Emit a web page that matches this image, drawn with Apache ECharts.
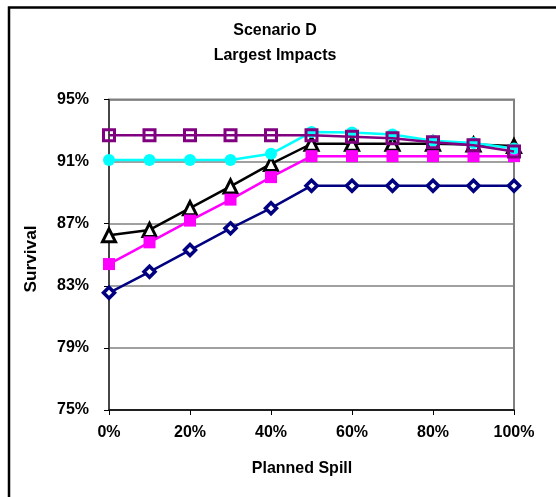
<!DOCTYPE html>
<html><head><meta charset="utf-8">
<script src="https://cdn.jsdelivr.net/npm/echarts@6/dist/echarts.min.js"></script>
<style>html,body{margin:0;padding:0;background:#fff}#c{width:556px;height:497px}</style>
</head><body><div id="c"></div>
<script>
var spill = [0, 10, 20, 30, 40, 50, 60, 70, 80, 90, 100];
var seriesNavy    = [82.55, 83.9, 85.3, 86.7, 88.0, 89.45, 89.45, 89.45, 89.45, 89.45, 89.45];
var seriesBlack   = [86.25, 86.6, 88.0, 89.4, 90.85, 92.15, 92.15, 92.15, 92.15, 92.1, 92.0];
var seriesMagenta = [84.4, 85.8, 87.2, 88.55, 90.0, 91.35, 91.35, 91.35, 91.35, 91.35, 91.35];
var seriesCyan    = [91.1, 91.1, 91.1, 91.1, 91.5, 92.9, 92.87, 92.75, 92.35, 92.2, 91.85];
var seriesPurple  = [92.7, 92.7, 92.7, 92.7, 92.7, 92.7, 92.6, 92.5, 92.25, 92.05, 91.65];
var yTicks = [75, 79, 83, 87, 91, 95];
var xTicks = [0, 20, 40, 60, 80, 100];
var titleLines = ['Scenario D', 'Largest Impacts'];
var xTitle = 'Planned Spill', yTitle = 'Survival';

function pairs(v){ return spill.map(function(x,i){ return [x, v[i]]; }); }
var FONT = 'Liberation Sans, Arial, sans-serif';
function mk(name, data, color, symbol, size, fill, bw, z){
  return { name:name, type:'line', data:pairs(data), symbol:symbol, symbolSize:size,
    z: z, lineStyle:{color:color, width:2.5}, itemStyle:{color:fill, borderColor:color, borderWidth:bw},
    emphasis:{disabled:true}, animation:false };
}
var chart = echarts.init(document.getElementById('c'));
chart.setOption({
  backgroundColor:'#fff',
  animation:false,
  grid:{left:109, top:99.5, right:42, bottom:87, show:true, borderColor:'#808080', borderWidth:2, backgroundColor:'#fff'},
  xAxis:{type:'value', min:xTicks[0], max:xTicks[xTicks.length-1], interval:20,
    axisLine:{show:true, onZero:false, lineStyle:{color:'#000', width:1.5}},
    axisTick:{show:true, length:5, lineStyle:{color:'#000'}},
    splitLine:{show:false},
    axisLabel:{formatter:function(v){return v+'%';}, fontFamily:FONT, fontWeight:'bold', fontSize:16, color:'#000', margin:15}},
  yAxis:{type:'value', min:yTicks[0], max:yTicks[yTicks.length-1], interval:4,
    axisLine:{show:true, lineStyle:{color:'#333', width:1.5}},
    axisTick:{show:true, length:5, lineStyle:{color:'#000'}},
    splitLine:{show:true, lineStyle:{color:'#808080', width:1.5}},
    axisLabel:{formatter:function(v){return v+'%';}, fontFamily:FONT, fontWeight:'bold', fontSize:16, color:'#000', margin:20}},
  graphic:[
    {type:'rect', shape:{x:9, y:7.5, width:700, height:700}, style:{fill:'none', stroke:'#000', lineWidth:2.5}, z:100},
    {type:'text', x:275, y:30, scaleY:1.08, style:{text:titleLines[0], font:'bold 16px '+FONT, fill:'#000', align:'center', verticalAlign:'middle'}},
    {type:'text', x:275, y:55, scaleY:1.08, style:{text:titleLines[1], font:'bold 16px '+FONT, fill:'#000', align:'center', verticalAlign:'middle'}},
    {type:'text', x:302, y:468, scaleY:1.08, style:{text:xTitle, font:'bold 16px '+FONT, fill:'#000', align:'center', verticalAlign:'middle'}},
    {type:'text', x:32, y:259, rotation:Math.PI/2, scaleX:1.08, style:{text:yTitle, font:'bold 16px '+FONT, fill:'#000', align:'center', verticalAlign:'middle'}}
  ],
  series:[
    mk('A', seriesNavy, '#000080', 'diamond', 11, '#fff', 3.5, 2),
    mk('B', seriesBlack, '#000000', 'triangle', 13, '#fff', 3, 3),
    mk('C', seriesMagenta, '#FF00FF', 'rect', 12, '#FF00FF', 0, 4),
    mk('D', seriesCyan, '#00FFFF', 'circle', 12, '#00FFFF', 0, 5),
    mk('E', seriesPurple, '#800080', 'rect', 11, 'rgba(0,0,0,0)', 3, 6)
  ]
});
</script></body></html>
